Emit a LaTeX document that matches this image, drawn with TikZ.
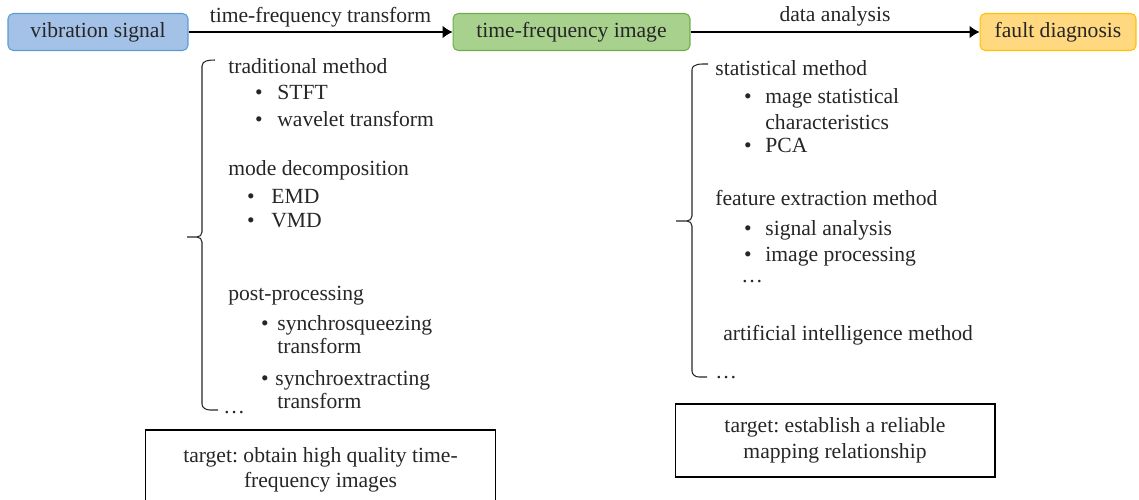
\documentclass[tikz,border=0pt]{standalone}
\usepackage{fontspec}
\setmainfont{Liberation Serif}
\usepackage{tikz}
\usetikzlibrary{positioning, arrows.meta}
\frenchspacing
\definecolor{sigclr}{RGB}{164,194,231}
\definecolor{sigedge}{RGB}{91,155,213}
\definecolor{imgclr}{RGB}{169,209,142}
\definecolor{imgedge}{RGB}{112,173,71}
\definecolor{diagclr}{RGB}{255,216,128}
\definecolor{diagedge}{RGB}{255,192,0}
\tikzset{ %
  ,>={Latex[length=5.6pt, width=7pt]}
  ,every node/.style={font=\fontsize{12.3}{14.5}\selectfont, text=black!85}
  ,stage/.style={draw, rounded corners=3pt, minimum height=0.74cm, inner sep=0, line width=0.6pt}
  ,txt/.style={anchor=base west, inner sep=0}
  ,dot/.style={anchor=base, inner sep=0}
  ,lbl/.style={anchor=base, inner sep=0}
  ,target/.style={draw, align=center, inner sep=0, line width=0.6pt}
  ,brace/.style={line width=0.6pt, black!85}
}

\begin{document}
\begin{tikzpicture}[x=0.02cm, y=-0.02cm]
      \useasboundingbox (0,0) rectangle (1139,500);
      % main chain
      \node[stage, fill=sigclr, draw=sigedge, minimum width=3.6cm] (sig) at (98,32) {vibration signal};
      \node[stage, fill=imgclr, draw=imgedge, minimum width=4.74cm] (tfi) at (571.5,32) {time-frequency image};
      \node[stage, fill=diagclr, draw=diagedge, minimum width=3.12cm] (fault) at (1058,32) {fault diagnosis};
      \draw [line width=0.6pt,->] (sig) edge (tfi) (tfi) edge (fault);
      \node[lbl] (tftlbl) at (320.5,23) {time-frequency transform};
      \node[lbl] (dalbl) at (835,22) {data analysis};

      % left bracket
      \draw [brace] (215,60) to[out=180,in=90] (202,66) -- (202,232) to[out=-90,in=0] (197,237) -- (187,237);
      \draw [brace] (197,237) to[out=0,in=90] (202,242) -- (202,404) to[out=-90,in=180] (210,410) -- (218,410);
      \node[txt] (trad) at (228,74) {traditional method};
      \node[dot] (d1) at (259,100) {\textbullet};
      \node[txt] (stft) at (277,100) {STFT};
      \node[dot] (d2) at (259,127) {\textbullet};
      \node[txt] (wav) at (277,127) {wavelet transform};
      \node[txt] (mode) at (228,175) {mode decomposition};
      \node[dot] (d3) at (251,203) {\textbullet};
      \node[txt] (emd) at (271,203) {EMD};
      \node[dot] (d4) at (251,227) {\textbullet};
      \node[txt] (vmd) at (271,227) {VMD};
      \node[txt] (post) at (228,300) {post-processing};
      \node[dot] (d5) at (265,330) {\textbullet};
      \node[txt] (sst) at (277,330) {synchrosqueezing};
      \node[txt] (sst2) at (277,353) {transform};
      \node[dot] (d6) at (265,385) {\textbullet};
      \node[txt] (set) at (275,385) {synchroextracting};
      \node[txt] (set2) at (277,408) {transform};
      \node[txt] (ldots) at (223,413) {\dots};
      \node[target, minimum width=7.02cm, minimum height=1.6cm] (ltarget) at (320.5,470)
        {target: obtain high quality time-\\frequency images};

      % right bracket
      \draw [brace] (708,64) to[out=180,in=90] (692,70) -- (692,216) to[out=-90,in=0] (687,221) -- (676,221);
      \draw [brace] (687,221) to[out=0,in=90] (692,226) -- (692,371) to[out=-90,in=180] (699,377) -- (707,377);
      \node[txt] (stat) at (715,76) {statistical method};
      \node[dot] (d7) at (748,104) {\textbullet};
      \node[txt] (mage) at (765,104) {mage statistical};
      \node[txt] (mage2) at (765,130) {characteristics};
      \node[dot] (d8) at (748,153) {\textbullet};
      \node[txt] (pca) at (765,153) {PCA};
      \node[txt] (feat) at (715,205) {feature extraction method};
      \node[dot] (d9) at (748,235) {\textbullet};
      \node[txt] (sig2) at (765,235) {signal analysis};
      \node[dot] (d10) at (748,261) {\textbullet};
      \node[txt] (imgp) at (765,261) {image processing};
      \node[txt] (fdots) at (741,282) {\dots};
      \node[txt] (ai) at (723,340) {artificial intelligence method};
      \node[txt] (rdots) at (715,378) {\dots};
      \node[target, minimum width=6.4cm, minimum height=1.46cm] (rtarget) at (835,440.5)
        {target: establish a reliable\\mapping relationship};
    \end{tikzpicture}
\end{document}
